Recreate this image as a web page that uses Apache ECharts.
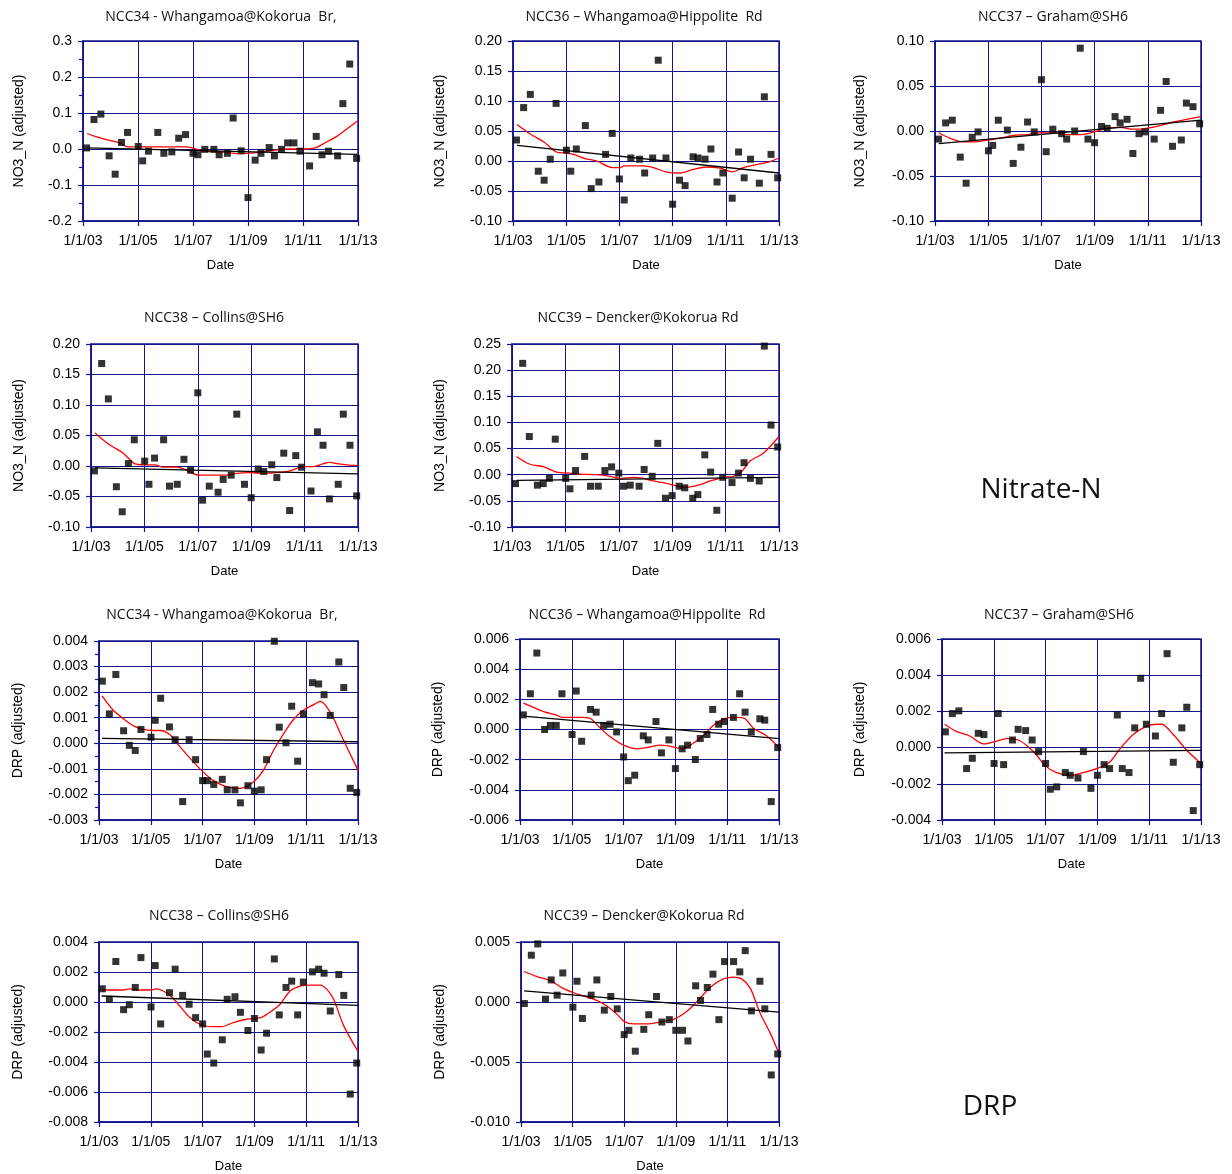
<!DOCTYPE html>
<html>
<head>
<meta charset="utf-8">
<title>Flow-adjusted Nitrate-N and DRP trends</title>
<script src="https://cdn.jsdelivr.net/npm/echarts@6/dist/echarts.min.js"></script>
<style>
  html, body { margin: 0; padding: 0; background: #ffffff; }
  #chart { width: 1232px; height: 1174px; }
</style>
</head>
<body>
<div id="chart"></div>
<script>
// Sample dates (decimal years), shared by all five sites
const sampleDates = [2003.13, 2003.40, 2003.65, 2003.95, 2004.17, 2004.40, 2004.62, 2005.01, 2005.17, 2005.38,
  2005.72, 2005.94, 2006.23, 2006.48, 2006.73, 2007.00, 2007.18, 2007.43, 2007.76, 2007.95,
  2008.25, 2008.46, 2008.75, 2009.00, 2009.26, 2009.47, 2009.77, 2009.96, 2010.22, 2010.44,
  2010.67, 2010.89, 2011.24, 2011.48, 2011.69, 2011.93, 2012.26, 2012.45, 2012.70, 2012.95];

// x-axis tick years (labelled 1/1/yy)
const xTickYears = [2003, 2005, 2007, 2009, 2011, 2013];

// ---------- NO3_N (flow adjusted) ----------
const no3Ncc34 = [0.003, 0.082, 0.097, -0.019, -0.070, 0.018, 0.046, 0.007, -0.033, -0.006,
  0.046, -0.012, -0.008, 0.030, 0.040, -0.012, -0.016, -0.001, -0.001, -0.016,
  -0.012, 0.086, -0.005, -0.135, -0.031, -0.012, 0.004, -0.019, -0.001, 0.017,
  0.017, -0.006, -0.047, 0.035, -0.016, -0.006, -0.019, 0.126, 0.236, -0.026];
const no3Ncc34Smooth = [[2003.15, 0.043], [2003.43, 0.035], [2003.97, 0.024], [2004.34, 0.017], [2004.63, 0.006],
  [2004.99, 0.006], [2006.04, 0.006], [2006.77, 0.006], [2007.37, -0.006], [2007.98, -0.008],
  [2008.71, -0.013], [2009.20, -0.011], [2009.93, -0.004], [2010.41, 0.000], [2011.14, 0.000],
  [2011.44, 0.003], [2011.75, 0.015], [2012.23, 0.035], [2012.60, 0.056], [2012.98, 0.078]];
const no3Ncc34Trend = [[2003.15, 0.003], [2012.97, -0.015]];

const no3Ncc36 = [0.035, 0.089, 0.111, -0.017, -0.032, 0.003, 0.096, 0.018, -0.017, 0.020,
  0.059, -0.046, -0.035, 0.011, 0.046, -0.030, -0.065, 0.005, 0.003, -0.020,
  0.005, 0.168, 0.005, -0.072, -0.032, -0.041, 0.007, 0.005, 0.003, 0.020,
  -0.035, -0.020, -0.062, 0.015, -0.028, 0.003, -0.037, 0.107, 0.011, -0.028];
const no3Ncc36Smooth = [[2003.15, 0.061], [2003.65, 0.045], [2004.15, 0.032], [2004.63, 0.015], [2005.02, 0.013],
  [2005.28, 0.011], [2005.70, 0.004], [2006.15, 0.000], [2006.73, -0.011], [2007.03, -0.011],
  [2007.18, -0.008], [2007.91, -0.008], [2008.28, -0.011], [2008.74, -0.018], [2009.28, -0.020],
  [2009.78, -0.014], [2010.28, -0.010], [2010.78, -0.012], [2011.25, -0.018], [2011.66, -0.011],
  [2012.16, -0.006], [2012.66, -0.001], [2013.00, 0.005]];
const no3Ncc36Trend = [[2003.15, 0.026], [2013.00, -0.020]];

const no3Ncc37 = [-0.009, 0.009, 0.012, -0.029, -0.058, -0.007, -0.001, -0.022, -0.016, 0.012,
  0.001, -0.036, -0.018, 0.010, -0.001, 0.057, -0.023, 0.002, -0.003, -0.009,
  0.000, 0.092, -0.009, -0.013, 0.005, 0.003, 0.016, 0.009, 0.013, -0.025,
  -0.003, -0.001, -0.009, 0.023, 0.055, -0.017, -0.010, 0.031, 0.027, 0.008];
const no3Ncc37Smooth = [[2003.14, -0.002], [2003.56, -0.008], [2004.07, -0.012], [2004.44, -0.012], [2005.00, -0.010],
  [2005.44, -0.008], [2005.94, -0.005], [2006.45, -0.004], [2006.95, -0.002], [2007.45, -0.002],
  [2007.95, -0.004], [2008.45, -0.004], [2008.98, -0.001], [2009.45, 0.003], [2009.95, 0.004],
  [2010.46, 0.002], [2010.96, 0.003], [2011.46, 0.006], [2011.96, 0.010], [2012.46, 0.013],
  [2013.00, 0.016]];
const no3Ncc37Trend = [[2003.14, -0.014], [2013.00, 0.012]];

const no3Ncc38 = [-0.008, 0.168, 0.110, -0.034, -0.075, 0.004, 0.043, 0.008, -0.030, 0.013,
  0.043, -0.033, -0.030, 0.011, -0.007, 0.120, -0.056, -0.033, -0.043, -0.022,
  -0.015, 0.085, -0.030, -0.052, -0.005, -0.009, 0.002, -0.019, 0.021, -0.073,
  0.017, -0.002, -0.041, 0.056, 0.034, -0.054, -0.030, 0.085, 0.034, -0.049];
const no3Ncc38Smooth = [[2003.15, 0.054], [2003.65, 0.036], [2004.21, 0.021], [2004.63, 0.004], [2005.01, 0.002],
  [2005.41, 0.002], [2005.70, -0.002], [2006.21, -0.002], [2006.59, -0.007], [2007.03, -0.015],
  [2007.59, -0.015], [2008.09, -0.015], [2008.45, -0.012], [2008.96, -0.011], [2009.46, -0.012],
  [2009.96, -0.011], [2010.46, -0.008], [2010.96, -0.001], [2011.34, -0.001], [2011.65, 0.003],
  [2011.93, 0.006], [2012.21, 0.004], [2012.59, 0.002], [2013.00, 0.001]];
const no3Ncc38Trend = [[2003.15, -0.003], [2013.00, -0.013]];

const no3Ncc39 = [-0.017, 0.213, 0.073, -0.020, -0.017, -0.007, 0.068, -0.007, -0.027, 0.008,
  0.035, -0.022, -0.022, 0.008, 0.015, 0.003, -0.022, -0.020, -0.022, 0.010,
  -0.003, 0.060, -0.045, -0.040, -0.022, -0.025, -0.045, -0.038, 0.038, 0.005,
  -0.068, -0.005, -0.015, 0.003, 0.023, -0.007, -0.012, 0.246, 0.095, 0.053];
const no3Ncc39Smooth = [[2003.17, 0.035], [2003.67, 0.020], [2004.20, 0.015], [2004.67, 0.005], [2005.17, 0.003],
  [2005.55, 0.001], [2006.17, 0.000], [2006.67, -0.003], [2007.04, -0.007], [2007.54, -0.005],
  [2007.92, -0.007], [2008.29, -0.012], [2008.76, -0.016], [2009.04, -0.020], [2009.54, -0.024],
  [2009.98, -0.020], [2010.42, -0.012], [2010.92, -0.005], [2011.29, -0.003], [2011.60, 0.006],
  [2011.91, 0.026], [2012.41, 0.041], [2013.00, 0.073]];
const no3Ncc39Trend = [[2003.17, -0.011], [2013.00, -0.005]];

// ---------- DRP (flow adjusted) ----------
const drpNcc34 = [0.00243, 0.00115, 0.00269, 0.00049, -0.00008, -0.00028, 0.00054, 0.00024, 0.00090, 0.00176,
  0.00064, 0.00014, -0.00228, 0.00014, -0.00064, -0.00146, -0.00146, -0.00161, -0.00141, -0.00182,
  -0.00182, -0.00233, -0.00166, -0.00187, -0.00182, -0.00064, 0.00399, 0.00063, 0.00002, 0.00145,
  -0.00070, 0.00115, 0.00237, 0.00232, 0.00190, 0.00109, 0.00318, 0.00218, -0.00176, -0.00192];
const drpNcc34Smooth = [[2003.12, 0.00185], [2003.55, 0.00129], [2003.97, 0.00094], [2004.33, 0.00068], [2004.71, 0.00054],
  [2005.10, 0.00050], [2005.37, 0.00050], [2005.73, 0.00034], [2006.13, -0.00014], [2006.52, -0.00059],
  [2006.98, -0.00108], [2007.42, -0.00146], [2007.94, -0.00170], [2008.45, -0.00176], [2008.97, -0.00150],
  [2009.35, -0.00105], [2009.74, -0.00027], [2010.13, 0.00038], [2010.51, 0.00093], [2010.90, 0.00130],
  [2011.29, 0.00151], [2011.54, 0.00164], [2011.74, 0.00149], [2012.06, 0.00097], [2012.32, 0.00038],
  [2013.00, -0.00105]];
const drpNcc34Trend = [[2003.12, 0.00019], [2013.00, 0.00006]];

const drpNcc36 = [0.00097, 0.00237, 0.00507, 0.00000, 0.00027, 0.00027, 0.00237, -0.00033, 0.00255, -0.00078,
  0.00133, 0.00115, 0.00027, 0.00035, -0.00016, -0.00182, -0.00339, -0.00303, -0.00042, -0.00069,
  0.00053, -0.00155, -0.00069, -0.00259, -0.00128, -0.00104, -0.00199, -0.00060, -0.00033, 0.00133,
  0.00035, 0.00053, 0.00080, 0.00237, 0.00115, -0.00016, 0.00071, 0.00062, -0.00478, -0.00120];
const drpNcc36Smooth = [[2003.13, 0.00175], [2003.50, 0.00148], [2003.97, 0.00115], [2004.40, 0.00097], [2004.62, 0.00080],
  [2005.02, 0.00080], [2005.38, 0.00080], [2005.73, 0.00071], [2006.08, 0.00013], [2006.47, -0.00047],
  [2007.00, -0.00104], [2007.50, -0.00128], [2007.88, -0.00120], [2008.46, -0.00104], [2009.02, -0.00120],
  [2009.30, -0.00128], [2009.69, -0.00091], [2010.07, -0.00042], [2010.46, 0.00027], [2010.89, 0.00071],
  [2011.36, 0.00080], [2011.69, 0.00071], [2012.01, 0.00009], [2012.52, -0.00042], [2013.00, -0.00120]];
const drpNcc36Trend = [[2003.13, 0.00089], [2013.00, -0.00060]];

const drpNcc37 = [0.00087, 0.00188, 0.00203, -0.00116, -0.00059, 0.00079, 0.00072, -0.00088, 0.00188, -0.00094,
  0.00042, 0.00101, 0.00094, 0.00042, -0.00022, -0.00088, -0.00230, -0.00217, -0.00138, -0.00153,
  -0.00168, -0.00022, -0.00225, -0.00153, -0.00094, -0.00116, 0.00180, -0.00116, -0.00138, 0.00109,
  0.00383, 0.00129, 0.00064, 0.00188, 0.00519, -0.00081, 0.00109, 0.00223, -0.00348, -0.00094];
const drpNcc37Smooth = [[2003.10, 0.00129], [2003.55, 0.00090], [2004.07, 0.00064], [2004.62, 0.00020], [2005.10, 0.00035],
  [2005.49, 0.00050], [2005.94, 0.00042], [2006.26, 0.00013], [2006.65, -0.00041], [2006.99, -0.00101],
  [2007.42, -0.00138], [2007.94, -0.00153], [2008.45, -0.00138], [2008.97, -0.00116], [2009.47, -0.00081],
  [2009.87, -0.00007], [2010.38, 0.00072], [2010.87, 0.00116], [2011.29, 0.00129], [2011.48, 0.00129],
  [2011.93, 0.00072], [2012.45, -0.00015], [2013.00, -0.00088]];
const drpNcc37Trend = [[2003.10, -0.00029], [2013.00, -0.00015]];

const drpNcc38 = [0.00088, 0.00018, 0.00270, -0.00051, -0.00018, 0.00097, 0.00296, -0.00033, 0.00243, -0.00146,
  0.00062, 0.00219, 0.00044, -0.00015, -0.00104, -0.00146, -0.00347, -0.00407, -0.00252, 0.00018,
  0.00035, -0.00069, -0.00190, -0.00110, -0.00320, -0.00208, 0.00287, -0.00086, 0.00097, 0.00139,
  -0.00086, 0.00133, 0.00201, 0.00219, 0.00192, -0.00060, 0.00183, 0.00044, -0.00614, -0.00407];
const drpNcc38Smooth = [[2003.10, 0.00080], [2003.54, 0.00080], [2003.95, 0.00080], [2004.16, 0.00088], [2004.57, 0.00080],
  [2005.01, 0.00080], [2005.22, 0.00088], [2005.48, 0.00073], [2005.80, 0.00035], [2006.12, -0.00027],
  [2006.51, -0.00104], [2006.97, -0.00155], [2007.41, -0.00164], [2007.74, -0.00164], [2008.19, -0.00137],
  [2008.70, -0.00115], [2009.25, -0.00104], [2009.48, -0.00082], [2009.95, -0.00022], [2010.38, 0.00073],
  [2010.77, 0.00106], [2011.22, 0.00113], [2011.54, 0.00113], [2011.80, 0.00084], [2012.06, 0.00018],
  [2012.45, -0.00159], [2013.00, -0.00329]];
const drpNcc38Trend = [[2003.10, 0.00040], [2013.00, -0.00022]];

const drpNcc39 = [-0.00013, 0.00390, 0.00484, 0.00024, 0.00184, 0.00057, 0.00242, -0.00043, 0.00173, -0.00137,
  0.00057, 0.00184, -0.00068, 0.00046, -0.00057, -0.00272, -0.00236, -0.00410, -0.00228, -0.00106,
  0.00046, -0.00167, -0.00147, -0.00236, -0.00236, -0.00325, 0.00135, 0.00013, 0.00121, 0.00232,
  -0.00147, 0.00337, 0.00337, 0.00251, 0.00428, -0.00074, 0.00173, -0.00057, -0.00608, -0.00433];
const drpNcc39Smooth = [[2003.12, 0.00254], [2003.62, 0.00212], [2004.16, 0.00176], [2004.61, 0.00115], [2005.04, 0.00077],
  [2005.43, 0.00049], [2005.94, 0.00013], [2006.33, -0.00034], [2006.72, -0.00103], [2006.99, -0.00161],
  [2007.36, -0.00183], [2007.88, -0.00183], [2008.39, -0.00167], [2008.91, -0.00145], [2009.30, -0.00098],
  [2009.68, -0.00029], [2010.07, 0.00063], [2010.46, 0.00143], [2010.85, 0.00193], [2011.23, 0.00207],
  [2011.55, 0.00193], [2011.88, 0.00118], [2012.26, -0.00089], [2012.65, -0.00255], [2012.96, -0.00408]];
const drpNcc39Trend = [[2003.12, 0.00093], [2013.00, -0.00084]];

// ---------- panel layout ----------
const NAVY = '#14148c';
const AXIS_FONT = '"Liberation Sans", Arial, sans-serif';
const TITLE_FONT = '"Open Sans", "Noto Sans", sans-serif';

const panels = [
  { title: 'NCC34 - Whangamoa@Kokorua  Br,', tx: 221, ty: 17, grid: [83, 41, 275, 180], nameX: 19,
    yMin: -0.2, yMax: 0.3, yStep: 0.1, dec: 1, minor: true, yName: 'NO3_N (adjusted)',
    values: no3Ncc34, smooth: no3Ncc34Smooth, trend: no3Ncc34Trend },
  { title: 'NCC36 \u2013 Whangamoa@Hippolite  Rd', tx: 644, ty: 17, grid: [513, 41, 266, 180], nameX: 440,
    yMin: -0.10, yMax: 0.20, yStep: 0.05, dec: 2, minor: false, yName: 'NO3_N (adjusted)',
    values: no3Ncc36, smooth: no3Ncc36Smooth, trend: no3Ncc36Trend },
  { title: 'NCC37 \u2013 Graham@SH6', tx: 1053, ty: 17, grid: [935, 41, 266, 180], nameX: 860,
    yMin: -0.10, yMax: 0.10, yStep: 0.05, dec: 2, minor: false, yName: 'NO3_N (adjusted)',
    values: no3Ncc37, smooth: no3Ncc37Smooth, trend: no3Ncc37Trend },
  { title: 'NCC38 \u2013 Collins@SH6', tx: 214, ty: 318, grid: [91, 344, 267, 183], nameX: 19,
    yMin: -0.10, yMax: 0.20, yStep: 0.05, dec: 2, minor: false, yName: 'NO3_N (adjusted)',
    values: no3Ncc38, smooth: no3Ncc38Smooth, trend: no3Ncc38Trend },
  { title: 'NCC39 \u2013 Dencker@Kokorua Rd', tx: 638, ty: 318, grid: [512, 344, 267, 183], nameX: 440,
    yMin: -0.10, yMax: 0.25, yStep: 0.05, dec: 2, minor: false, yName: 'NO3_N (adjusted)',
    values: no3Ncc39, smooth: no3Ncc39Smooth, trend: no3Ncc39Trend },
  { title: 'NCC34 - Whangamoa@Kokorua  Br,', tx: 222, ty: 615, grid: [99, 641, 259, 179], nameX: 18,
    yMin: -0.003, yMax: 0.004, yStep: 0.001, dec: 3, minor: true, yName: 'DRP (adjusted)',
    values: drpNcc34, smooth: drpNcc34Smooth, trend: drpNcc34Trend },
  { title: 'NCC36 \u2013 Whangamoa@Hippolite  Rd', tx: 647, ty: 615, grid: [520, 639, 259, 181], nameX: 438,
    yMin: -0.006, yMax: 0.006, yStep: 0.002, dec: 3, minor: false, yName: 'DRP (adjusted)',
    values: drpNcc36, smooth: drpNcc36Smooth, trend: drpNcc36Trend },
  { title: 'NCC37 \u2013 Graham@SH6', tx: 1059, ty: 615, grid: [942, 639, 259, 181], nameX: 860,
    yMin: -0.004, yMax: 0.006, yStep: 0.002, dec: 3, minor: false, yName: 'DRP (adjusted)',
    values: drpNcc37, smooth: drpNcc37Smooth, trend: drpNcc37Trend },
  { title: 'NCC38 \u2013 Collins@SH6', tx: 219, ty: 916, grid: [99, 942, 259, 181], nameX: 18,
    yMin: -0.008, yMax: 0.004, yStep: 0.002, dec: 3, minor: false, yName: 'DRP (adjusted)',
    values: drpNcc38, smooth: drpNcc38Smooth, trend: drpNcc38Trend },
  { title: 'NCC39 \u2013 Dencker@Kokorua Rd', tx: 644, ty: 916, grid: [521, 942, 258, 181], nameX: 440,
    yMin: -0.010, yMax: 0.005, yStep: 0.005, dec: 3, minor: false, yName: 'DRP (adjusted)',
    values: drpNcc39, smooth: drpNcc39Smooth, trend: drpNcc39Trend }
];

// section labels
const sectionLabels = [
  { text: 'Nitrate-N', x: 1041, y: 490 },
  { text: 'DRP', x: 990, y: 1107 }
];

const fmtDate = v => '1/1/' + String(Math.round(v) % 100).padStart(2, '0');

const grids = [], xAxes = [], yAxes = [], series = [], graphics = [];

panels.forEach((p, i) => {
  const [left, top, width, height] = p.grid;
  grids.push({
    left, top, width, height,
    show: true, borderColor: NAVY, borderWidth: 1.5, backgroundColor: 'transparent',
    containLabel: false
  });
  xAxes.push({
    type: 'value', gridIndex: i, min: xTickYears[0], max: xTickYears[xTickYears.length - 1], interval: 2,
    name: 'Date', nameLocation: 'middle', nameGap: 38,
    nameTextStyle: { fontFamily: AXIS_FONT, fontSize: 13, color: '#000' },
    axisLine: { show: true, onZero: false, lineStyle: { color: NAVY, width: 1.5 } },
    axisTick: { show: true, inside: false, length: 5, lineStyle: { color: NAVY, width: 1.2 } },
    axisLabel: { formatter: fmtDate, fontFamily: AXIS_FONT, fontSize: 14, color: '#000', margin: 13 },
    splitLine: { show: true, lineStyle: { color: NAVY, width: 1 } }
  });
  yAxes.push({
    type: 'value', gridIndex: i, min: p.yMin, max: p.yMax, interval: p.yStep,
    name: p.yName, nameLocation: 'middle', nameGap: left - p.nameX - 7,
    nameTextStyle: { fontFamily: AXIS_FONT, fontSize: 14, color: '#000' },
    axisLine: { show: true, onZero: false, lineStyle: { color: NAVY, width: 1.5 } },
    axisTick: { show: true, inside: false, length: 5, lineStyle: { color: NAVY, width: 1.2 } },
    minorTick: { show: p.minor, splitNumber: 2, length: 4, lineStyle: { color: NAVY, width: 1.2 } },
    axisLabel: {
      formatter: v => (Math.abs(v) < 1e-12 ? 0 : v).toFixed(p.dec),
      fontFamily: AXIS_FONT, fontSize: 14, color: '#000', margin: 11
    },
    splitLine: { show: true, lineStyle: { color: NAVY, width: 1 } }
  });
  // LOWESS smooth
  series.push({
    type: 'line', xAxisIndex: i, yAxisIndex: i, data: p.smooth, smooth: 0.3,
    showSymbol: false, symbol: 'none', silent: true, z: 3,
    lineStyle: { color: '#ff0000', width: 1.3 }
  });
  // linear trend
  series.push({
    type: 'line', xAxisIndex: i, yAxisIndex: i, data: p.trend,
    showSymbol: false, symbol: 'none', silent: true, z: 3,
    lineStyle: { color: '#000000', width: 1.3 }
  });
  // observations
  series.push({
    type: 'scatter', xAxisIndex: i, yAxisIndex: i,
    data: p.values.map((v, k) => [sampleDates[k], v]),
    symbol: 'rect', symbolSize: 7, z: 4,
    itemStyle: { color: '#000000' }
  });
  graphics.push({
    type: 'text', x: p.tx, y: p.ty, silent: true,
    style: {
      text: p.title, fill: '#111', font: '14px ' + TITLE_FONT,
      align: 'center', verticalAlign: 'middle', textAlign: 'center', textVerticalAlign: 'middle'
    }
  });
});

sectionLabels.forEach(s => {
  graphics.push({
    type: 'text', x: s.x, y: s.y, silent: true,
    style: {
      text: s.text, fill: '#111', font: '28px ' + TITLE_FONT,
      align: 'center', verticalAlign: 'middle', textAlign: 'center', textVerticalAlign: 'middle'
    }
  });
});

const chart = echarts.init(document.getElementById('chart'), null, { renderer: 'canvas' });
chart.setOption({
  animation: false,
  backgroundColor: '#ffffff',
  grid: grids,
  xAxis: xAxes,
  yAxis: yAxes,
  series: series,
  graphic: graphics
});
</script>
</body>
</html>
